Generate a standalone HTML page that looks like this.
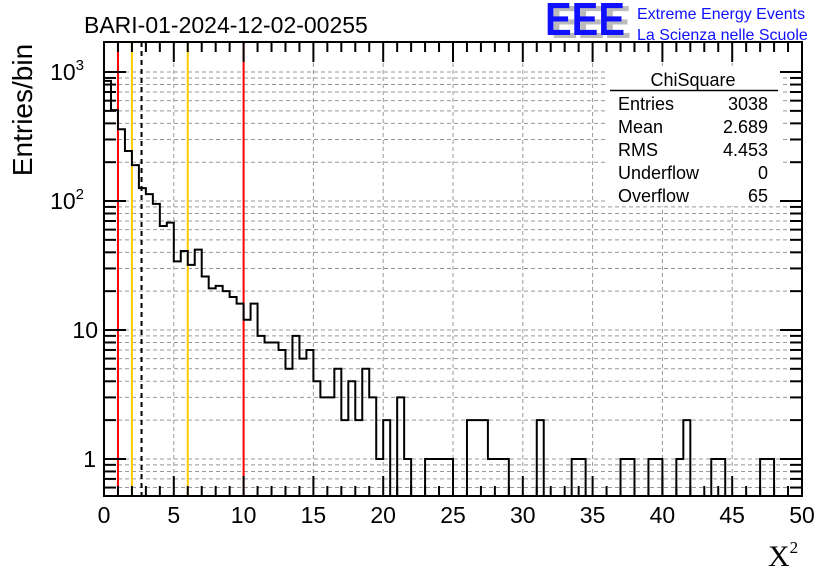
<!DOCTYPE html>
<html><head><meta charset="utf-8"><style>
body{margin:0;background:#fff}
svg{display:block;font-family:"Liberation Sans",sans-serif}
</style></head><body>
<svg id="c" width="836" height="572" xmlns="http://www.w3.org/2000/svg">
<rect width="836" height="572" fill="#fff"/>
<g id="grid"></g>
<g id="vlines"></g>
<path id="hist" fill="none" stroke="#000" stroke-width="2"/>
<g id="stats">
<rect x="606" y="66" width="176" height="140" fill="#fff"/>
<text x="693" y="86" font-size="18" text-anchor="middle">ChiSquare</text>
<line x1="610" y1="90.5" x2="778" y2="90.5" stroke="#000" stroke-width="1.5"/>
<g font-size="18">
<text x="618" y="110">Entries</text><text x="768" y="110" text-anchor="end">3038</text>
<text x="618" y="133">Mean</text><text x="768" y="133" text-anchor="end">2.689</text>
<text x="618" y="156">RMS</text><text x="768" y="156" text-anchor="end">4.453</text>
<text x="618" y="179">Underflow</text><text x="768" y="179" text-anchor="end">0</text>
<text x="618" y="202">Overflow</text><text x="768" y="202" text-anchor="end">65</text>
</g></g>
<g id="axes"></g>
<text x="84" y="33" font-size="23">BARI-01-2024-12-02-00255</text>
<text x="32" y="110" font-size="28" text-anchor="middle" transform="rotate(-90 32 110)">Entries/bin</text>
<text x="768" y="566" font-size="30" font-family="Liberation Serif,serif">X<tspan font-size="17" dy="-13">2</tspan></text>
<g>
<text x="551" y="38" font-size="46" font-weight="bold" fill="#bbb" textLength="80" lengthAdjust="spacingAndGlyphs">EEE</text>
<text x="545" y="35" font-size="46" font-weight="bold" fill="#1010ff" textLength="80" lengthAdjust="spacingAndGlyphs">EEE</text>
<text x="637" y="19" font-size="16" fill="#1010ff">Extreme Energy Events</text>
<text x="637" y="40" font-size="16" fill="#1010ff">La Scienza nelle Scuole</text>
</g>
</svg>
<script>
const counts=[855,507,360,244,190,126,113,95,64,68,34,41,32,42,26,21,22,20,18,16,12,16,9,8,8,7,5,9,6,7,4,3,3,5,2,4,2,5,3,1,2,0,3,1,0,0,1,1,1,1,0,0,2,2,2,1,1,1,0,0,0,0,2,0,0,0,0,1,1,0,0,0,0,0,1,1,0,0,1,1,0,0,1,2,0,0,0,1,1,0,0,0,0,0,1,1,0,0,0,0];
const binWidth=0.5;
const xTicks=[0,5,10,15,20,25,30,35,40,45,50];
const yDecades=[1,10,100,1000];
const cutLines=[{v:1,c:"#f00"},{v:2,c:"#fc0"},{v:6,c:"#fc0"},{v:10,c:"#f00"}];
const meanVal=2.689;
const X0=104,X1=802,Y0=42,Y1=496,xMin=0,xMax=50;
const yMin=0.516,yMax=1710;
const NS="http://www.w3.org/2000/svg";
const sx=v=>X0+(v-xMin)/(xMax-xMin)*(X1-X0);
const ly=Math.log10;
const sy=v=>v<=yMin?Y1:Math.max(Y0,Y1-(ly(v)-ly(yMin))/(ly(yMax)-ly(yMin))*(Y1-Y0));
function mk(t,a,p){const e=document.createElementNS(NS,t);for(const k in a)e.setAttribute(k,a[k]);p.appendChild(e);return e;}
const grid=document.getElementById('grid'),axes=document.getElementById('axes'),vl=document.getElementById('vlines');
xTicks.forEach(t=>{if(t>xMin&&t<xMax){const l=mk('line',{x1:sx(t),x2:sx(t),y1:Y0,y2:Y1,stroke:'#999','stroke-dasharray':'4,3'},grid);}});
const minorY=[];
yDecades.forEach(d=>{for(let m=1;m<10;m++){const v=d*m;if(v>yMin&&v<yMax)minorY.push(v);}});
[0.6,0.7,0.8,0.9].forEach(v=>minorY.push(v));
minorY.forEach(v=>{const l=mk('line',{x1:X0,x2:X1,y1:sy(v),y2:sy(v),stroke:'#999','stroke-dasharray':'4,3'},grid);});
cutLines.forEach(c=>{const l=mk('line',{x1:sx(c.v),x2:sx(c.v),y1:Y0,y2:Y1,stroke:c.c,'stroke-width':2},vl);});
const ml=mk('line',{x1:sx(meanVal),x2:sx(meanVal),y1:Y0,y2:Y1,stroke:'#000','stroke-width':2,'stroke-dasharray':'5,4'},vl);

let d='M'+sx(0)+','+Y1;
counts.forEach((c,i)=>{const y=sy(c);d+=' L'+sx(i*binWidth)+','+y+' L'+sx((i+1)*binWidth)+','+y;});
d+=' L'+sx(counts.length*binWidth)+','+Y1;
document.getElementById('hist').setAttribute('d',d);
mk('rect',{x:X0,y:Y0,width:X1-X0,height:Y1-Y0,fill:'none',stroke:'#000','stroke-width':2},axes);
for(let v=xMin;v<=xMax+1e-9;v+=1){const big=v%5===0;const h=big?20:10;
mk('line',{x1:sx(v),x2:sx(v),y1:Y1,y2:Y1-h,stroke:'#000','stroke-width':2},axes);
mk('line',{x1:sx(v),x2:sx(v),y1:Y0,y2:Y0+h,stroke:'#000','stroke-width':2},axes);}
xTicks.forEach(t=>{const tx=mk('text',{x:sx(t),y:523,'font-size':23,'text-anchor':'middle'},axes);tx.textContent=t;});
minorY.concat(yDecades).forEach(v=>{const big=yDecades.includes(v);const h=big?22:12;
mk('line',{x1:X0,x2:X0+h,y1:sy(v),y2:sy(v),stroke:'#000','stroke-width':2},axes);
mk('line',{x1:X1,x2:X1-h,y1:sy(v),y2:sy(v),stroke:'#000','stroke-width':2},axes);});
const ylab=[["1",""],["10",""],["10","2"],["10","3"]];
yDecades.forEach((v,i)=>{const tx=mk('text',{x:i==0?96:(i==1?98:84),y:sy(v)+8,'font-size':23,'text-anchor':'end'},axes);
tx.textContent=ylab[i][0];
if(ylab[i][1]){const ts=mk('tspan',{'font-size':15,dy:-10},tx);ts.textContent=ylab[i][1];}
});
</script>
</body></html>
